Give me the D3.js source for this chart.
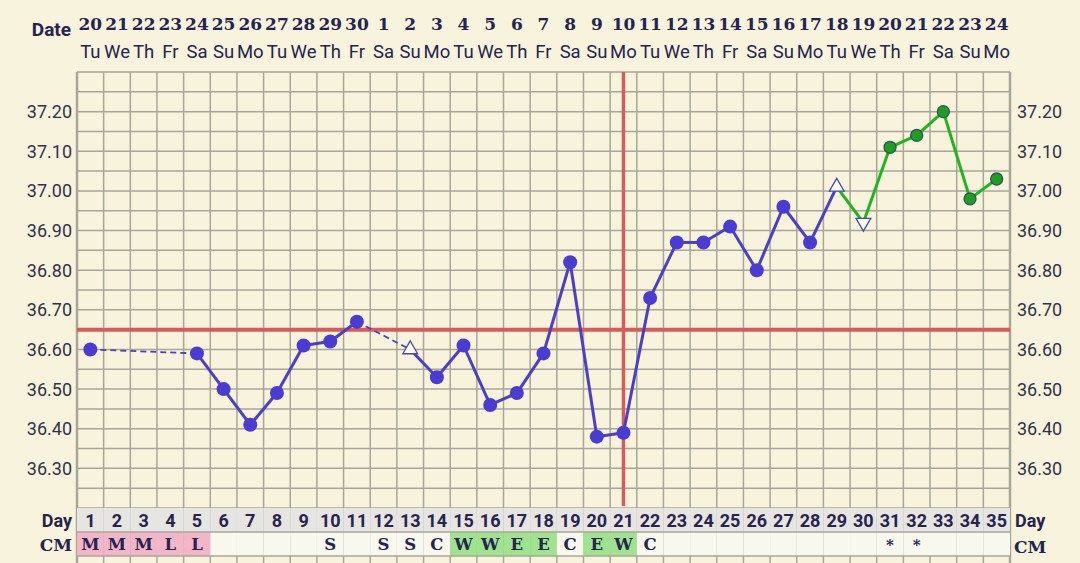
<!DOCTYPE html>
<html>
<head>
<meta charset="utf-8">
<script src="https://cdn.jsdelivr.net/npm/d3@7"></script>
<style>
  body { margin: 0; background: #f7f3dc; }
  svg { display: block; }
</style>
</head>
<body>
<svg id="chart" width="1080" height="563"></svg>
<script>
// cycle days, calendar dates, weekdays
var days = d3.range(1, 36);
var dates = [20,21,22,23,24,25,26,27,28,29,30,1,2,3,4,5,6,7,8,9,10,11,12,13,14,15,16,17,18,19,20,21,22,23,24];
var weekdays = ["Tu","We","Th","Fr","Sa","Su","Mo","Tu","We","Th","Fr","Sa","Su","Mo","Tu","We","Th","Fr","Sa","Su","Mo","Tu","We","Th","Fr","Sa","Su","Mo","Tu","We","Th","Fr","Sa","Su","Mo"];
// temperatures (null = no reading)
var temps = [36.60,null,null,null,36.59,36.50,36.41,36.49,36.61,36.62,36.67,null,36.60,36.53,36.61,36.46,36.49,36.59,36.82,36.38,36.39,36.73,36.87,36.87,36.91,36.80,36.96,36.87,37.01,36.92,37.11,37.14,37.20,36.98,37.03];
// marker: o = circle, ^ = open triangle up, v = open triangle down
var markers = ["o","o","o","o","o","o","o","o","o","o","o","o","^","o","o","o","o","o","o","o","o","o","o","o","o","o","o","o","^","v","o","o","o","o","o"];
var cm = ["M","M","M","L","L","","","","","S","","S","S","C","W","W","E","E","C","E","W","C","","","","","","","","","*","*","","",""];
var yTicks = [36.30,36.40,36.50,36.60,36.70,36.80,36.90,37.00,37.10,37.20];
var coverline = 36.65;
var ovulationDay = 21;
var greenFrom = 29;

var svg = d3.select("#chart");
var ink = "#26244f";

var x = d3.scaleBand().domain(days).range([77, 1010]);
var y = d3.scaleLinear().domain([36.20, 37.30]).range([508, 72]);
var cx = function (d) { return x(d) + x.bandwidth() / 2; };

svg.append("rect").attr("width", 1080).attr("height", 563).attr("fill", "#f7f3dc");

// grid
var grid = svg.append("g").attr("stroke", "#a9a698").attr("stroke-width", 1.5);
grid.selectAll(".h").data(d3.range(0, 23).map(function (i) { return 36.20 + i * 0.05; }))
  .join("line")
  .attr("x1", 77).attr("x2", 1010)
  .attr("y1", function (d) { return y(d); }).attr("y2", function (d) { return y(d); });

// day / cm rows
var rows = svg.append("g");
rows.selectAll(".dayc").data(days).join("rect")
  .attr("x", function (d) { return x(d); }).attr("y", 508)
  .attr("width", x.bandwidth()).attr("height", 24)
  .attr("fill", "#e6e5e2");
rows.selectAll(".cmc").data(days).join("rect")
  .attr("x", function (d) { return x(d); }).attr("y", 532)
  .attr("width", x.bandwidth()).attr("height", 24)
  .attr("fill", function (d, i) {
    var c = cm[i];
    if (c == "M" || c == "L") return "#f3b6c9";
    if (c == "W" || c == "E") return "#9fe38f";
    return "#f9f8ef";
  });
rows.append("line").attr("x1", 77).attr("x2", 1010).attr("y1", 532).attr("y2", 532)
  .attr("stroke", "#a9a698").attr("stroke-width", 1.5);
rows.append("line").attr("x1", 77).attr("x2", 1010).attr("y1", 556).attr("y2", 556)
  .attr("stroke", "#a9a698").attr("stroke-width", 1.5);

grid.selectAll(".v").data(d3.range(0, 36))
  .join("line")
  .attr("x1", function (i) { return 77 + i * x.bandwidth(); })
  .attr("x2", function (i) { return 77 + i * x.bandwidth(); })
  .attr("y1", 72).attr("y2", 563)
  .attr("stroke-width", function (i) { return (i == 0 || i == 35) ? 2.5 : 1.5; });

// day numbers
rows.selectAll(".dn").data(days).join("text")
  .attr("x", cx).attr("y", 527)
  .attr("text-anchor", "middle")
  .attr("font-family", "Roboto, 'DejaVu Sans', sans-serif").attr("font-weight", "bold")
  .attr("font-size", 18).attr("fill", ink)
  .text(function (d) { return d; });
rows.selectAll(".cmt").data(days).join("text")
  .attr("x", cx).attr("y", 550)
  .attr("text-anchor", "middle")
  .attr("font-family", "'DejaVu Serif', serif").attr("font-weight", "bold")
  .attr("font-size", function (d, i) { return cm[i] == "*" ? 15 : 16.5; }).attr("fill", ink)
  .text(function (d, i) { return cm[i]; });

// labels for rows
function rowLabel(txt, xx, yy, anchor, fam, size) {
  svg.append("text").attr("x", xx).attr("y", yy).attr("text-anchor", anchor)
    .attr("font-family", fam).attr("font-weight", "bold")
    .attr("font-size", size).attr("fill", ink).text(txt);
}
rowLabel("Day", 72, 527, "end", "Roboto, sans-serif", 18);
rowLabel("CM", 72, 551, "end", "'DejaVu Serif', serif", 17);
rowLabel("Day", 1015, 527, "start", "Roboto, sans-serif", 18);
rowLabel("CM", 1014, 553, "start", "'DejaVu Serif', serif", 17);
rowLabel("Date", 71, 36, "end", "Roboto, sans-serif", 19);

// dates & weekdays
svg.selectAll(".dt").data(days).join("text")
  .attr("x", cx).attr("y", 30)
  .attr("text-anchor", "middle")
  .attr("font-family", "'DejaVu Serif', serif").attr("font-weight", "bold")
  .attr("font-size", 17).attr("fill", ink)
  .text(function (d, i) { return dates[i]; });
svg.selectAll(".wd").data(days).join("text")
  .attr("x", cx).attr("y", 58)
  .attr("text-anchor", "middle")
  .attr("font-family", "Roboto, sans-serif")
  .attr("font-size", 18.5).attr("fill", ink)
  .text(function (d, i) { return weekdays[i]; });

// y labels
[["end", 72], ["start", 1017]].forEach(function (s) {
  svg.append("g").selectAll("text").data(yTicks).join("text")
    .attr("x", s[1]).attr("y", function (d) { return y(d) + 6.5; })
    .attr("text-anchor", s[0])
    .attr("font-family", "Roboto, sans-serif")
    .attr("font-size", 18).attr("fill", "#33324a")
    .text(function (d) { return d3.format(".2f")(d); });
});

// coverline & ovulation line
svg.append("line").attr("x1", 77).attr("x2", 1010)
  .attr("y1", y(coverline)).attr("y2", y(coverline))
  .attr("stroke", "#d65c5c").attr("stroke-width", 4);
svg.append("line").attr("x1", cx(ovulationDay)).attr("x2", cx(ovulationDay))
  .attr("y1", 72).attr("y2", 506)
  .attr("stroke", "#d65c5c").attr("stroke-width", 3.5);

// temperature segments
var pts = [];
temps.forEach(function (t, i) { if (t != null) pts.push({ day: i + 1, t: t, m: markers[i] }); });
var segs = [];
for (var i = 1; i < pts.length; i++) segs.push([pts[i - 1], pts[i]]);

var lines = svg.append("g");
lines.selectAll("line").data(segs).join("line")
  .attr("x1", function (s) { return cx(s[0].day); }).attr("y1", function (s) { return y(s[0].t); })
  .attr("x2", function (s) { return cx(s[1].day); }).attr("y2", function (s) { return y(s[1].t); })
  .attr("stroke", function (s) { return s[0].day >= greenFrom ? "#22b41e" : "#4c3fc4"; })
  .attr("stroke-width", function (s) { return s[1].day - s[0].day > 1 ? 1.8 : 3; })
  .attr("stroke-dasharray", function (s) { return s[1].day - s[0].day > 1 ? "6,4" : null; });

// markers
var tri = d3.symbol().type(d3.symbolTriangle).size(95);
pts.forEach(function (p) {
  var px = cx(p.day), py = y(p.t);
  var green = p.day > greenFrom;
  if (p.m == "o") {
    svg.append("circle").attr("cx", px).attr("cy", py).attr("r", green ? 6 : 7)
      .attr("fill", green ? "#1f9e1f" : "#4a3bd2")
      .attr("stroke", green ? "#2b5468" : "none").attr("stroke-width", 1.3);
  } else {
    svg.append("path").attr("d", tri)
      .attr("transform", "translate(" + px + "," + py + ")" + (p.m == "v" ? " rotate(180)" : ""))
      .attr("fill", "#fbfbf3").attr("stroke", "#4a4aa8").attr("stroke-width", 1.3);
  }
});
</script>
</body>
</html>
